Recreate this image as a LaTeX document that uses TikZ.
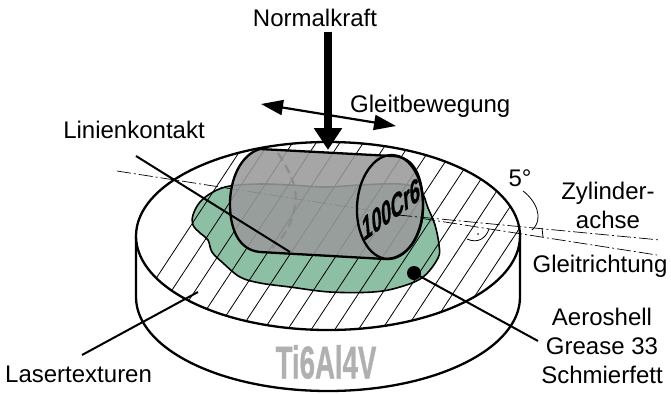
\documentclass[tikz,border=0pt]{standalone}
\usepackage{xcolor}
\usepackage{fontspec}
\setmainfont{Liberation Sans}
\newfontface\dickschrift[FakeBold=1]{Liberation Sans Bold}
\usetikzlibrary{arrows.meta}
\definecolor{fett}{HTML}{8DBFA5}
\definecolor{zylinder}{HTML}{9A9A9A}
\definecolor{verdeckt}{HTML}{8C8C8C}
\definecolor{titan}{HTML}{B0B0B0}
\newcommand{\schrift}{\fontsize{24}{29}\selectfont}

\begin{document}
\begin{tikzpicture}[
  x=1pt, y=-1pt,
  label/.style={inner sep=0pt, align=center, font=\schrift},
  kontur/.style={draw=black, line width=2.3pt},
  leader/.style={draw=black, line width=2pt},
  hatch/.style={draw=black, line width=0.8pt},
  achse/.style={draw=black, line width=0.7pt, dash pattern=on 14pt off 3pt on 2pt off 3pt},
  kraft/.style={line width=8pt, -{Triangle[length=22pt,width=27pt]}},
  bewegung/.style={line width=2.2pt, {Triangle[length=22pt,width=15pt]}-{Triangle[length=22pt,width=15pt]}}
]
\useasboundingbox (0,0) rectangle (671,394);

\draw[kontur, fill=white] (136,236) -- (136,297) arc[start angle=180, end angle=360, x radius=192pt, y radius=94pt] -- (520,236);
\draw[kontur, fill=white] (328,236) ellipse[x radius=192pt, y radius=94pt];

\draw[draw=black, line width=1.6pt, fill=fett] plot[smooth cycle, tension=0.6] coordinates {
  (230,186) (213,192) (200,202) (193,215) (193,225) (200,233) (208,240) (212,252)
  (223,263) (240,277) (260,283) (290,287) (330,292) (373,292) (400,287) (423,277)
  (438,258) (439,245) (435,225) (428,208) (420,190) (400,184) (360,185) (325,187) (290,185) (260,184)};

\begin{scope}
  \clip (328,236) ellipse[x radius=192pt, y radius=94pt];
  \foreach \k in {0,...,14} {
    \pgfmathsetmacro{\xnull}{184+23.6*\k}
    \draw[hatch] ({\xnull+65.8},136) -- ({\xnull-65.8},336);
  }
\end{scope}

\coordinate (achseStart) at (117,171);
\coordinate (gleitEnde) at (657,255);
\coordinate (zylStart) at (398,215);
\coordinate (zylEnde) at (660,240);
\draw[achse] (achseStart) -- (gleitEnde);

\draw[kontur, fill=zylinder, fill opacity=0.88]
  (392,156) -- (260,149) .. controls (240,155) and (230,180) .. (230,204)
  .. controls (230,228) and (238,250) .. (260,252) -- (385,259)
  .. controls (408,259) and (423,235) .. (423,207)
  .. controls (423,178) and (415,156) .. (392,156) -- cycle;
\draw[kontur] (390,207) ellipse[x radius=52pt, y radius=33pt, rotate=87];
\draw[verdeckt, line width=2.2pt, dash pattern=on 9pt off 5pt] (278,153) .. controls (292,175) and (298,190) .. (295,205) .. controls (292,225) and (283,238) .. (272,248);

\node[font=\dickschrift\fontsize{30}{30}\selectfont, inner sep=0pt, cm={0.57,0.42,-0.1,1.1,(0,0)}] (werkstoff) at (391,209) {100Cr6};
\node[font=\dickschrift\fontsize{46}{46}\selectfont, text=titan, inner sep=0pt, xscale=0.6] (titan) at (326,362) {Ti6Al4V};

\draw[achse] (zylStart) -- (zylEnde);

\draw[line width=0.8pt] (467,239) .. controls (478,244) and (486,238) .. (489,229);
\fill (478,234) circle[radius=0.8pt];
\draw[line width=0.8pt] (542,228) -- (543,237);
\draw[line width=0.8pt] (523,191) .. controls (535,200) and (545,218) .. (532,230);

\node[label, anchor=base] (normalkraft) at (315,26) {Normalkraft};
\node[label, anchor=base west] (gleitbewegung) at (350,112) {Gleitbewegung};
\node[label, anchor=base] (linienkontakt) at (134,138) {Linienkontakt};
\node[label, anchor=base west] (lasertexturen) at (5,382) {Lasertexturen};
\node[label, anchor=base] (winkel) at (520,186) {5°};
\node[label] (zylinderachse) at (608,205) {Zylinder-\\achse};
\node[label, anchor=base] (gleitrichtung) at (600,272) {Gleitrichtung};
\node[label] (aeroshell) at (602,346) {Aeroshell\\Grease 33\\Schmierfett};

\coordinate (kraftStart) at (328,32);
\coordinate (kraftSpitze) at (328,150);
\draw[kraft] (kraftStart) -- (kraftSpitze);
\coordinate (gleitLinks) at (261,104);
\coordinate (gleitRechts) at (396,126);
\draw[bewegung] (gleitLinks) -- (gleitRechts);

\coordinate (kontaktStart) at (136,156);
\coordinate (kontaktEnde) at (290,252);
\draw[leader] (kontaktStart) -- (kontaktEnde);
\coordinate (texturStart) at (82,355);
\coordinate (texturEnde) at (198,292);
\draw[leader] (texturStart) -- (texturEnde);
\fill (414,273) circle[radius=7pt] coordinate (fettPunkt);
\coordinate (fettEnde) at (538,341);
\draw[leader] (fettPunkt) -- (fettEnde);
\end{tikzpicture}
\end{document}
